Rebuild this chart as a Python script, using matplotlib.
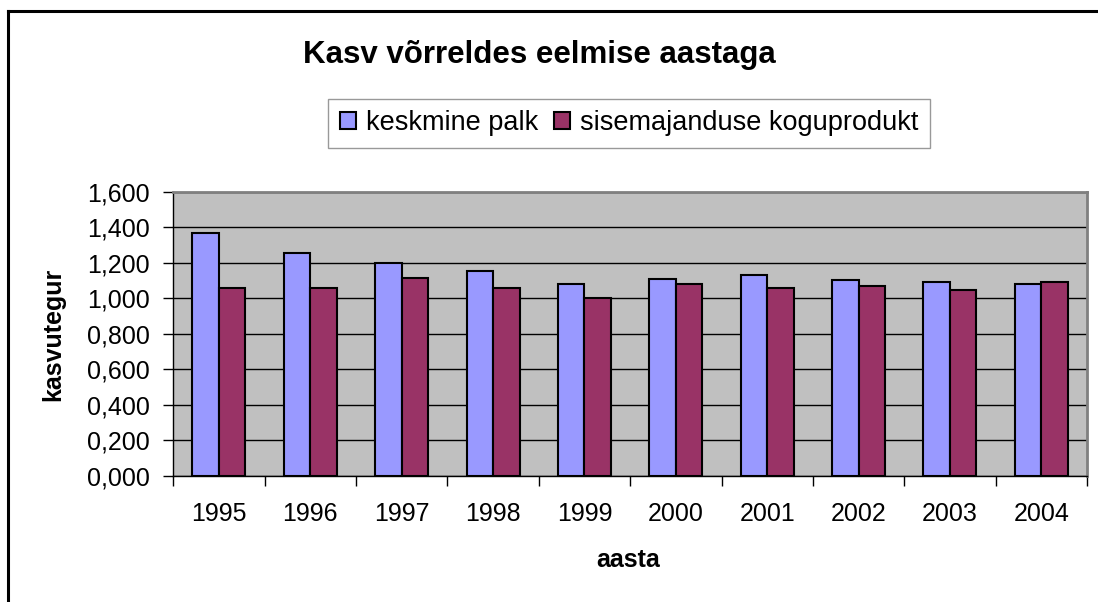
import matplotlib
matplotlib.use("Agg")
import matplotlib.pyplot as plt
from matplotlib.lines import Line2D
from matplotlib.patches import Patch
from matplotlib.ticker import FuncFormatter, FixedLocator
import numpy as np

years = ["1995", "1996", "1997", "1998", "1999", "2000", "2001", "2002", "2003", "2004"]
palk = [1.368, 1.254, 1.196, 1.152, 1.079, 1.107, 1.128, 1.105, 1.093, 1.082]
skp = [1.058, 1.058, 1.115, 1.058, 1.000, 1.082, 1.060, 1.070, 1.049, 1.093]
series_names = ["keskmine palk", "sisemajanduse koguprodukt"]
title = "Kasv võrreldes eelmise aastaga"
xlabel = "aasta"
ylabel = "kasvutegur"

plt.rcParams['font.family'] = ['Liberation Sans', 'DejaVu Sans']

W, H = 1098, 602
fig = plt.figure(figsize=(W / 100, H / 100), dpi=100)
fig.patch.set_facecolor("white")

def fx(px):
    return px / W

def fy(py):
    return 1 - py / H

left, right, top, bottom = 173.3, 1087, 191.7, 475.7
ax = fig.add_axes([fx(left), fy(bottom), fx(right) - fx(left), fy(top) - fy(bottom)])
ax.set_facecolor("#C0C0C0")

x = np.arange(len(years))
w = 0.29
ax.bar(x - w / 2, palk, w, color="#9999FF", edgecolor="black", linewidth=1.5, zorder=3)
ax.bar(x + w / 2, skp, w, color="#993366", edgecolor="black", linewidth=1.5, zorder=3)

ax.set_xlim(-0.5, len(years) - 0.5)
ax.set_ylim(0, 1.6)
ax.yaxis.set_major_locator(FixedLocator(np.arange(0, 1.61, 0.2)))
ax.yaxis.set_major_formatter(FuncFormatter(lambda v, p: f"{v:.3f}".replace(".", ",")))
ax.grid(axis="y", color="black", linewidth=1.0, zorder=1)
ax.set_axisbelow(True)

ax.set_xticks(x)
ax.set_xticklabels(years)
ax.set_xticks(np.arange(-0.5, len(years), 1.0), minor=True)
ax.tick_params(axis="x", which="major", length=0, pad=19, labelsize=18)
ax.tick_params(axis="x", which="minor", length=7, width=1.0, direction="out", color="black")
ax.tick_params(axis="y", which="major", length=7, width=1.0, direction="out", pad=10, labelsize=18)

for s in ["left", "bottom"]:
    ax.spines[s].set_color("black")
    ax.spines[s].set_linewidth(1.0)
for s in ["top", "right"]:
    ax.spines[s].set_color("#808080")
    ax.spines[s].set_linewidth(2.0)

fig.text(fx(539.7), fy(63), title, ha="center", va="baseline", fontsize=22.5, fontweight="bold")
fig.text(fx(628.5), fy(560), xlabel, ha="center", va="center", fontsize=18, fontweight="bold")
fig.text(fx(53.5), fy(334), ylabel, ha="center", va="center", fontsize=18, fontweight="bold", rotation=90)

handles = [Patch(facecolor="#9999FF", edgecolor="black", linewidth=1.5),
           Patch(facecolor="#993366", edgecolor="black", linewidth=1.5)]
leg = fig.legend(handles, series_names, loc="center", bbox_to_anchor=(fx(629), fy(123.3)),
                 ncol=2, fontsize=19.5, frameon=True, fancybox=False, shadow=False,
                 handlelength=0.6, handleheight=0.6, handletextpad=0.35, columnspacing=0.6,
                 borderpad=0.42, borderaxespad=0)
leg.get_frame().set_edgecolor("#808080")
leg.get_frame().set_linewidth(1.0)

# outer chart frame (left and top edges visible)
fig.add_artist(Line2D([fx(8), fx(8)], [0, fy(11)], color="black", linewidth=2.2, transform=fig.transFigure))
fig.add_artist(Line2D([fx(8), 1], [fy(11), fy(11)], color="black", linewidth=2.2, transform=fig.transFigure))

fig.savefig("out.png", dpi=100)
